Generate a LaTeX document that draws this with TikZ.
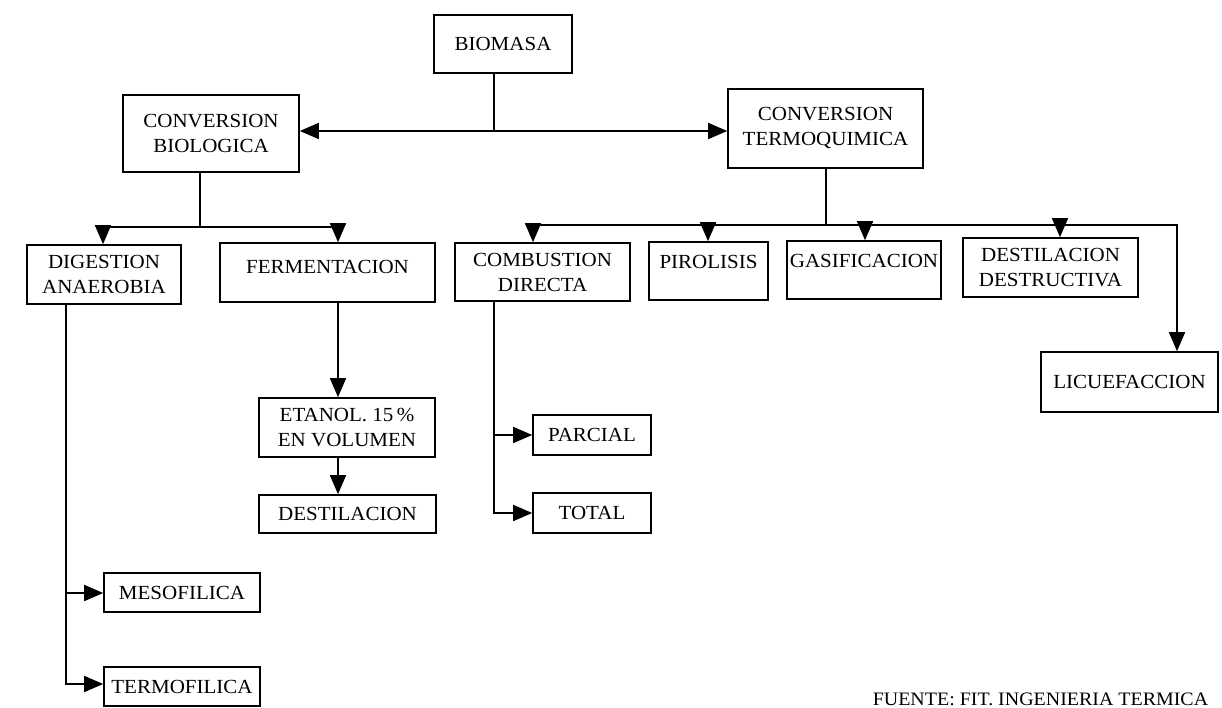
\documentclass[tikz,border=0pt]{standalone}
\usepackage{fontspec}
\setmainfont{Liberation Serif}[FakeStretch=1.05]
\usetikzlibrary{arrows.meta}
\begin{document}
\begin{tikzpicture}[x=1pt,y=-1pt,line width=1.6pt,
  box/.style={draw,line width=1.6pt,inner sep=0pt,align=center,
    font=\fontsize{20}{25}\selectfont},
  raiseA/.style={text height=14pt,text depth=12.8pt},
  raiseB/.style={text height=14pt,text depth=18.8pt},
  arr/.style={-{Triangle[length=19pt,width=16pt]}}]
\useasboundingbox (0,0) rectangle (1222,708);
% boxes
\node[box,minimum width=138pt,minimum height=58pt] (biom) at (503,44) {BIOMASA};
\node[box,minimum width=176pt,minimum height=77pt] (cbio) at (211,133.5) {CONVERSION\\BIOLOGICA};
\node[box,minimum width=195pt,minimum height=79pt] (cter) at (825.5,128.5) {CONVERSION\\TERMOQUIMICA};
\node[box,minimum width=154pt,minimum height=59pt] (dig) at (104,274.5) {DIGESTION\\ANAEROBIA};
\node[box,raiseA,minimum width=215pt,minimum height=59pt] (fer) at (327.5,272.5) {FERMENTACION};
\node[box,minimum width=175pt,minimum height=58pt] (com) at (542.5,272) {COMBUSTION\\DIRECTA};
\node[box,raiseB,minimum width=119pt,minimum height=58pt] (pir) at (708.5,271) {PIROLISIS};
\node[box,raiseB,minimum width=154pt,minimum height=58pt] (gas) at (864,270) {GASIFICACION};
\node[box,minimum width=175pt,minimum height=59pt] (des) at (1050.5,267.5) {DESTILACION\\DESTRUCTIVA};
\node[box,minimum width=177pt,minimum height=60pt] (lic) at (1129.5,382) {LICUEFACCION};
\node[box,minimum width=176pt,minimum height=59pt] (eta) at (347,427.5) {ETANOL. 15\,\%\\EN VOLUMEN};
\node[box,minimum width=177pt,minimum height=38pt] (dst) at (347.5,514) {DESTILACION};
\node[box,minimum width=118pt,minimum height=40pt] (par) at (592,435) {PARCIAL};
\node[box,minimum width=118pt,minimum height=40pt] (tot) at (592,513) {TOTAL};
\node[box,minimum width=156pt,minimum height=39pt] (mes) at (182,592.5) {MESOFILICA};
\node[box,minimum width=156pt,minimum height=39pt] (ter) at (182,686.5) {TERMOFILICA};
\node[font=\fontsize{19}{22}\selectfont,anchor=base,inner sep=0pt,text depth=0pt] (src) at (1040.5,705) {FUENTE: FIT. INGENIERIA TERMICA};
% BIOMASA branch
\coordinate (j1) at (494,131);
\draw (j1 |- biom.south) -- (j1);
\draw[arr] (j1) -- (j1 -| cbio.east);
\draw[arr] (j1) -- (j1 -| cter.west);
% biological bus
\coordinate (b1) at (200,227);
\coordinate (bL) at (103,227);
\coordinate (bR) at (338,227);
\draw (b1 |- cbio.south) -- (b1);
\draw[arr] (b1) -- (bL) -- (bL |- dig.north);
\draw[arr] (b1) -- (bR) -- (bR |- fer.north);
\draw[arr] (bR |- fer.south) -- (bR |- eta.north);
\draw[arr] (bR |- eta.south) -- (bR |- dst.north);
% thermochemical bus
\coordinate (t1) at (826,225);
\coordinate (tA) at (533,225);
\coordinate (tB) at (708,225);
\coordinate (tC) at (865,225);
\coordinate (tD) at (1060,225);
\coordinate (tE) at (1177,225);
\draw (t1 |- cter.south) -- (t1);
\draw[arr] (t1) -- (tA) -- (tA |- com.north);
\draw[arr] (tB) -- (tB |- pir.north);
\draw[arr] (tC) -- (tC |- gas.north);
\draw[arr] (tD) -- (tD |- des.north);
\draw[arr] (t1) -- (tE) -- (tE |- lic.north);
% combustion branches
\coordinate (c1) at (494,435);
\coordinate (c2) at (494,513);
\draw[arr] (c1 |- com.south) -- (c2) -- (c2 -| tot.west);
\draw[arr] (c1) -- (c1 -| par.west);
% digestion branches
\coordinate (d1) at (66,593);
\coordinate (d2) at (66,684);
\draw[arr] (d1 |- dig.south) -- (d2) -- (d2 -| ter.west);
\draw[arr] (d1) -- (d1 -| mes.west);
\end{tikzpicture}
\end{document}
